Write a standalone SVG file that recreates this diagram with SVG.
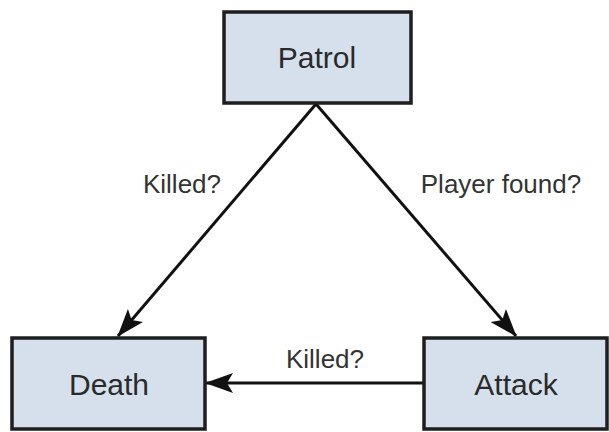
<svg xmlns="http://www.w3.org/2000/svg" width="609" height="432" viewBox="0 0 609 432">
<style>
.box{fill:#d6e0ec;stroke:#1e1e1e;stroke-width:3.5}
.nl{font-family:"Liberation Sans",Arial,sans-serif;font-size:30px;fill:#2a2a2a;text-anchor:middle}
.el{font-family:"Liberation Sans",Arial,sans-serif;font-size:26px;fill:#333;text-anchor:middle}
.edge{stroke:#111;stroke-width:3;fill:none}
</style>
<defs>
<marker id="ah" viewBox="0 0 28 20" refX="27" refY="10" markerWidth="28" markerHeight="20" markerUnits="userSpaceOnUse" orient="auto">
<path d="M0,0 L28,10 L0,20 L6,10 Z" fill="#111"/>
</marker>
</defs>
<rect width="609" height="432" fill="#fff"/>
<g id="connectors">
<line class="edge" x1="316" y1="104" x2="118" y2="336" marker-end="url(#ah)"/>
<line class="edge" x1="316" y1="104" x2="516" y2="336" marker-end="url(#ah)"/>
<line class="edge" x1="424" y1="383" x2="206" y2="383" marker-end="url(#ah)"/>
<text class="el" x="182" y="193">Killed?</text>
<text class="el" x="501" y="193">Player found?</text>
<text class="el" x="325" y="368">Killed?</text>
</g>
<g id="patrol">
<rect class="box" x="224" y="12" width="187" height="91"/>
<text class="nl" x="317" y="68">Patrol</text>
</g>
<g id="death">
<rect class="box" x="12" y="338" width="193" height="91"/>
<text class="nl" x="109" y="395">Death</text>
</g>
<g id="attack">
<rect class="box" x="424" y="338" width="183" height="91"/>
<text class="nl" x="516" y="395">Attack</text>
</g>
</svg>
